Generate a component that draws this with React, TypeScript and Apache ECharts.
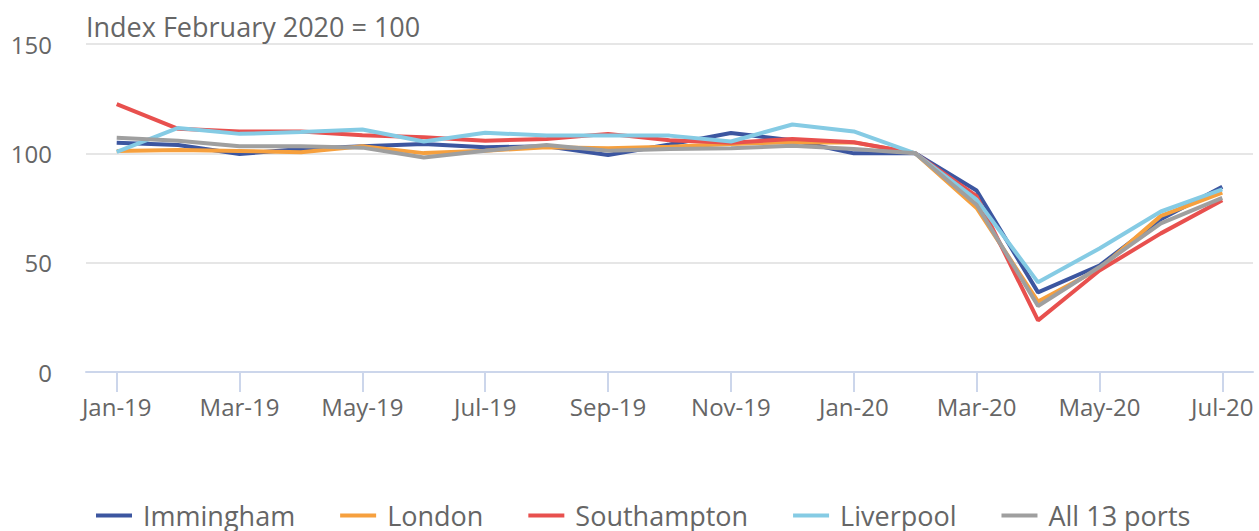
import React, { useEffect, useRef } from "react";
import * as echarts from "echarts";

const months = [
  "Jan-19", "Feb-19", "Mar-19", "Apr-19", "May-19", "Jun-19", "Jul-19", "Aug-19", "Sep-19", "Oct-19",
  "Nov-19", "Dec-19", "Jan-20", "Feb-20", "Mar-20", "Apr-20", "May-20", "Jun-20", "Jul-20",
];

const immingham = [104.8, 103.8, 99.7, 102, 103.2, 104.3, 102.8, 103.2, 99.2, 104, 109.3, 106, 100, 100, 83, 36.4, 48.7, 69.9, 84.7];
const london = [101.1, 101.5, 101.1, 100.5, 103.2, 100.1, 101.2, 102.8, 102.3, 103, 104.3, 105.1, 105, 100, 75, 32.2, 47.2, 71.4, 82];
const southampton = [122.5, 111.2, 110, 110, 108.3, 107.4, 105.8, 106.6, 108.9, 106, 104.8, 106.6, 105.1, 100, 80.4, 23.6, 46.4, 63.4, 78.5];
const liverpool = [100.7, 111.6, 108.9, 109.7, 110.9, 105.4, 109.4, 108.1, 108.1, 108.1, 105.4, 113.2, 110, 100, 78.8, 41, 56.5, 73.4, 83.5];
const allPorts = [107.1, 105.8, 103.2, 103.2, 102.6, 98.1, 101.2, 103.8, 101.2, 102, 102.3, 103.5, 102, 100, 76.5, 30.2, 48, 68, 79.6];

const seriesNames = ["Immingham", "London", "Southampton", "Liverpool", "All 13 ports"];
const seriesData = [immingham, london, southampton, liverpool, allPorts];
const colors = ["#3C56A0", "#F6A03E", "#E8504E", "#85CBE4", "#9F9F9F"];

const yTitle = "Index February 2020 = 100";
const FONT = "'Open Sans', sans-serif";

export default function App() {
  const ref = useRef<HTMLDivElement>(null);
  useEffect(() => {
    if (!ref.current) return;
    const chart = echarts.init(ref.current, null, { renderer: "svg" });
    chart.setOption({
      animation: false,
      color: colors,
      textStyle: { fontFamily: FONT },
      title: {
        text: yTitle,
        left: 86,
        top: 13,
        padding: 0,
        textStyle: { fontFamily: FONT, fontSize: 27, fontWeight: "normal", color: "#666666" },
      },
      grid: { left: 86, right: 6, top: 44, bottom: 159, containLabel: false },
      legend: {
        data: seriesNames,
        left: 91,
        top: 497,
        icon: "rect",
        itemWidth: 36,
        itemHeight: 4,
        itemGap: 45,
        textStyle: { fontFamily: FONT, fontSize: 27, color: "#666666", padding: [0, 0, 0, 6] },
      },
      xAxis: {
        type: "category",
        data: months,
        boundaryGap: true,
        axisLine: { lineStyle: { color: "#ccd6eb", width: 2 } },
        axisTick: { show: true, alignWithLabel: true, interval: 1, length: 20, lineStyle: { color: "#ccd6eb", width: 2 } },
        axisLabel: { interval: 1, fontSize: 24, color: "#666666", margin: 22, fontFamily: FONT },
        splitLine: { show: false },
      },
      yAxis: {
        type: "value",
        min: 0,
        max: 150,
        interval: 50,
        axisLine: { show: false },
        axisTick: { show: false },
        axisLabel: { fontSize: 24, color: "#666666", margin: 34, fontFamily: FONT },
        splitLine: { lineStyle: { color: "#e6e6e6", width: 2 } },
      },
      series: seriesNames.map((name, i) => ({
        name,
        type: "line",
        data: seriesData[i],
        symbol: "none",
        lineStyle: { width: 4, color: colors[i] },
        itemStyle: { color: colors[i] },
      })),
    });
    return () => chart.dispose();
  }, []);
  return <div ref={ref} style={{ width: 1259, height: 531, position: "absolute", left: 0, top: 0 }} />;
}
